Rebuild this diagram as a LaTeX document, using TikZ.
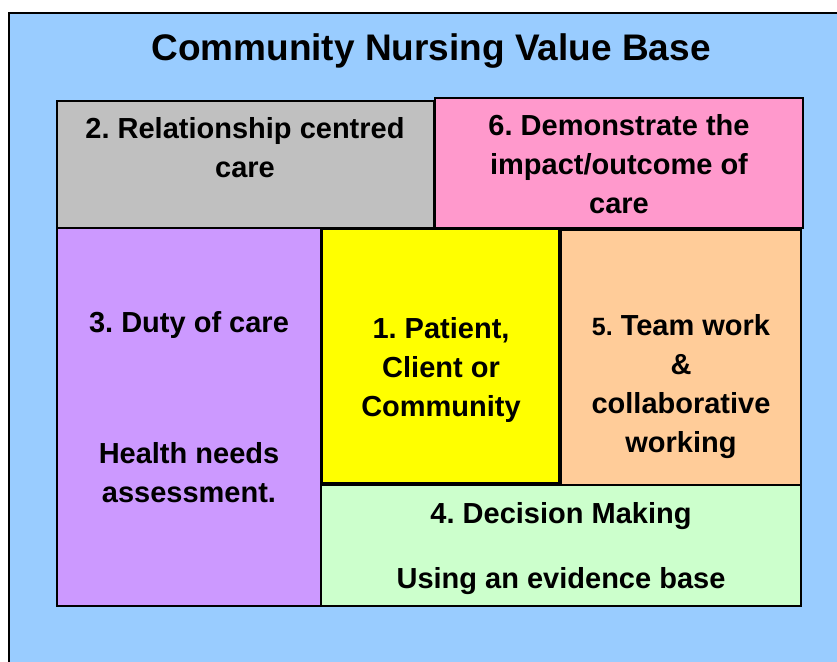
\documentclass[tikz,border=0pt]{standalone}
\usepackage{fontspec}
\setmainfont{Liberation Sans}
\usepackage{xcolor}
\usetikzlibrary{positioning}
\frenchspacing

\definecolor{skyblue}{HTML}{99CCFF}
\definecolor{boxgrey}{HTML}{C0C0C0}
\definecolor{boxpink}{HTML}{FF99CC}
\definecolor{boxlilac}{HTML}{CC99FF}
\definecolor{boxyellow}{HTML}{FFFF00}
\definecolor{boxpeach}{HTML}{FFCC99}
\definecolor{boxmint}{HTML}{CCFFCC}

\tikzset{
  valuebox/.style={draw=black, line width=1.5pt},
  % anchored on the baseline of the last line
  valuetext/.style={anchor=base, align=center, inner sep=0pt,
    font=\bfseries\fontsize{29}{39}\selectfont},
}

\begin{document}
\begin{tikzpicture}[x=1pt, y=-1pt]

  \useasboundingbox (0,0) rectangle (837,661);
  \clip (0,0) rectangle (837,661);
  \fill[white] (0,0) rectangle (837,661);

  % Background panel
  \draw[valuebox, fill=skyblue] (9,13) rectangle (850,675);
  \node[anchor=base, inner sep=0pt, font=\bfseries\fontsize{37}{44}\selectfont]
    (title) at (431,60) {Community Nursing Value Base};

  % Define boxes
  \draw[valuebox, fill=boxgrey]   (57,101)  rectangle (434,228);
  \draw[valuebox, fill=boxpink]   (435,98)  rectangle (803,228);
  \draw[valuebox, fill=boxlilac]  (57,228)  rectangle (321,606);
  \draw[valuebox, fill=boxyellow] (322,229) rectangle (559,483);
  \draw[valuebox, fill=boxpeach]  (561,230) rectangle (801,485);
  \draw[valuebox, fill=boxmint]   (321,485) rectangle (801,606);

  % Box texts
  \node[valuetext] (care) at (245,177) {2. Relationship centred\\care};
  \node[valuetext] (impact) at (619,213) {6. Demonstrate the\\impact/outcome of\\care};
  \node[valuetext] (duty) at (189,502) {3. Duty of care\\[92pt]Health needs\\assessment.};
  \node[valuetext] (patient) at (441,416) {1. Patient,\\Client or\\Community};
  \node[valuetext] (team) at (681,452) {{\fontsize{25}{39}\selectfont 5.} Team work\\\&\\collaborative\\working};
  \node[valuetext] (decision) at (561,588) {4. Decision Making\\[26pt]Using an evidence base};

\end{tikzpicture}
\end{document}
